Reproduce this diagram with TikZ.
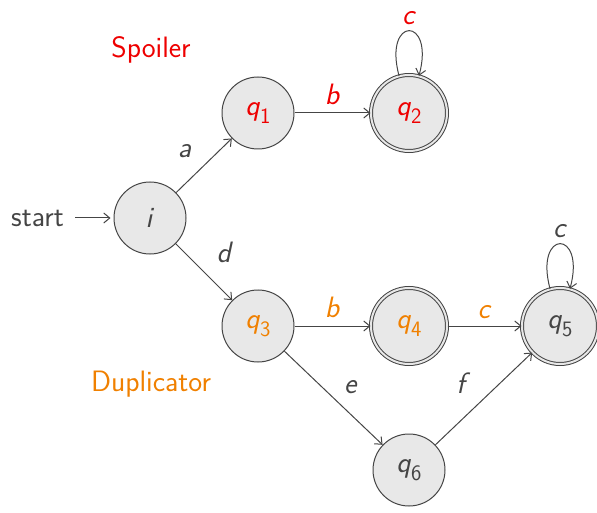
\documentclass[tikz,border=0pt]{standalone}
\usetikzlibrary{arrows.meta}
\renewcommand{\familydefault}{\sfdefault}
\definecolor{ink}{HTML}{454545}
\definecolor{statefill}{HTML}{E8E8E8}
\definecolor{spoil}{HTML}{EE0000}
\definecolor{dup}{HTML}{F08000}
\newcommand{\sym}[1]{\textit{#1}}
\newcommand{\st}[1]{\textit{q}\raisebox{-0.26em}{\fontsize{22}{24}\selectfont #1}}
\tikzset{
  every picture/.style={x=1pt,y=-1pt},
  txt/.style={font=\fontsize{29.5}{34}\selectfont, text=ink},
  state/.style={circle, draw=ink, fill=statefill, line width=1pt,
    minimum size=72pt, inner sep=0pt, txt},
  accepting/.style={double=statefill, double distance=2pt, minimum size=76pt},
  trans/.style={draw=ink, line width=1pt, -{Straight Barb[length=6pt,width=10pt]}},
  lab/.style={txt, inner sep=2pt},
}
\begin{document}
\begin{tikzpicture}
\useasboundingbox (0,0) rectangle (597,513);

% states
\node[state] (i)  at (150,218) {\sym{i}};
\node[state, text=spoil] (q1) at (258,113) {\st{1}};
\node[state, accepting, text=spoil] (q2) at (409,113) {\st{2}};
\node[state, text=dup] (q3) at (258,326) {\st{3}};
\node[state, accepting, text=dup] (q4) at (409,326) {\st{4}};
\node[state, accepting] (q5) at (560,326) {\st{5}};
\node[state] (q6) at (409,470) {\st{6}};

% start marker and player names
\node[txt, anchor=east, inner sep=0pt] (start) at (64,218) {start};
\node[txt, text=spoil] (spoiler) at (151,50) {Spoiler};
\node[txt, text=dup] (duplicator) at (151,384) {Duplicator};

% transitions
\draw[trans, shorten <=11pt, shorten >=3pt] (start) -- (i);
\draw[trans] (i) -- (q1) node[lab, pos=0.45, above left, xshift=-7pt, yshift=8pt] {\sym{a}};
\draw[trans] (i) -- (q3) node[lab, pos=0.45, above right, xshift=13pt, yshift=4pt] {\sym{d}};
\draw[trans] (q1) -- (q2) node[lab, midway, above, yshift=6pt, text=spoil] {\sym{b}};
\draw[trans] (q3) -- (q4) node[lab, midway, above, yshift=6pt, text=dup] {\sym{b}};
\draw[trans] (q4) -- (q5) node[lab, midway, above, yshift=5pt, text=dup] {\sym{c}};
\draw[trans] (q3) -- (q6) node[lab, midway, above right, xshift=8pt, yshift=2pt] {\sym{e}};
\draw[trans] (q6) -- (q5) node[lab, midway, above left, xshift=-11pt, yshift=3pt] {\sym{f}};
\draw[trans] (q2) to[out=105, in=75, looseness=8] node[lab, above, yshift=4pt, text=spoil] {\sym{c}} (q2);
\draw[trans] (q5) to[out=105, in=75, looseness=8] node[lab, above, yshift=4pt] {\sym{c}} (q5);
\end{tikzpicture}
\end{document}
